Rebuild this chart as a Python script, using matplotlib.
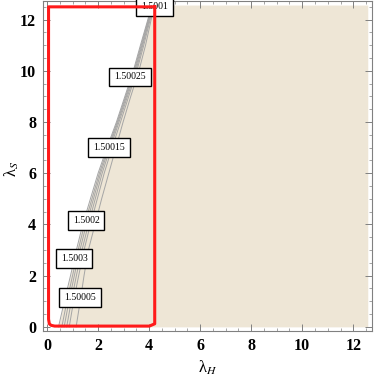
import numpy as np
import matplotlib
matplotlib.use('Agg')
import matplotlib.pyplot as plt
from matplotlib.ticker import MultipleLocator

plt.rcParams['mathtext.fontset'] = 'stix'

# plot range is 0 .. 4 pi on both axes
plot_max = 4 * np.pi
pad = 0.0125 * plot_max

# lambda_S values where the contour lines were read
lam_s = [0, 1, 2, 3, 4, 5, 6, 7, 8, 9, 10, 11, 12, 12.57]

# lambda_H position of each contour line at those lambda_S
line1 = [0.45, 0.68, 0.92, 1.15, 1.40, 1.70, 2.00, 2.35, 2.72, 3.05, 3.38, 3.66, 3.95, 4.10]
line2 = [0.58, 0.78, 1.00, 1.22, 1.47, 1.76, 2.05, 2.39, 2.75, 3.08, 3.41, 3.69, 3.97, 4.11]
line3 = [0.67, 0.86, 1.07, 1.29, 1.54, 1.82, 2.10, 2.43, 2.78, 3.11, 3.44, 3.72, 3.99, 4.12]
line4 = [0.77, 0.95, 1.15, 1.37, 1.62, 1.89, 2.16, 2.48, 2.82, 3.15, 3.48, 3.75, 4.01, 4.14]
line5 = [0.87, 1.04, 1.24, 1.45, 1.70, 1.97, 2.24, 2.55, 2.88, 3.20, 3.52, 3.79, 4.04, 4.16]
line6 = [1.14, 1.30, 1.45, 1.62, 1.88, 2.14, 2.42, 2.70, 2.98, 3.28, 3.60, 3.86, 4.08, 4.20]
contour_lines = [line1, line2, line3, line4, line5, line6]

# contour labels
label_text = ["1.5001", "1.50025", "1.50015", "1.5002", "1.5003", "1.50005"]
label_x = [4.20, 3.25, 2.43, 1.53, 1.06, 1.29]
label_y = [12.50, 9.76, 7.02, 4.16, 2.67, 1.14]

# red region outline
red_x = [4.22, 0.06, 0.06, 0.09, 0.16, 0.30, 4.01, 4.22, 4.22]
red_y = [12.50, 12.50, 0.30, 0.12, 0.06, 0.03, 0.03, 0.12, 12.50]

fig = plt.figure(figsize=(3.74, 3.76), dpi=100)
ax = fig.add_axes([0.115, 0.12, 0.879, 0.877])

ax.fill_betweenx(lam_s, line1, plot_max, color='#EEE6D6', lw=0, zorder=1)
for xs in contour_lines:
    ax.plot(xs, lam_s, color='#a5a5a5', lw=0.7, zorder=2)

for t, x, y in zip(label_text, label_x, label_y):
    ax.text(x, y, t, fontsize=7, family='Liberation Serif', ha='center', va='center',
            zorder=3, bbox=dict(boxstyle='square,pad=0.5', fc='white', ec='black', lw=1.0))

ax.plot(red_x, red_y, color='#ff1a1a', lw=2.2, zorder=4, solid_joinstyle='round')

ax.set_xlim(-pad, plot_max + pad)
ax.set_ylim(-pad, plot_max + pad)

ax.xaxis.set_major_locator(MultipleLocator(2))
ax.yaxis.set_major_locator(MultipleLocator(2))
ax.xaxis.set_minor_locator(MultipleLocator(0.5))
ax.yaxis.set_minor_locator(MultipleLocator(0.5))
ax.tick_params(which='both', direction='in', top=True, right=True, color='#808080')
ax.tick_params(which='major', length=5, width=0.7, pad=5)
ax.tick_params(which='minor', length=2.5, width=0.5)
for lab in ax.get_xticklabels() + ax.get_yticklabels():
    lab.set_family('Liberation Serif')
    lab.set_fontweight('bold')
    lab.set_fontsize(11.5)
for s in ax.spines.values():
    s.set_color('#808080')
    s.set_linewidth(0.8)

ax.set_xlabel('λ$_{\\mathit{H}}$', family='Liberation Serif', fontsize=12, va='center')
ax.set_ylabel('λ$_{\\mathit{S}}$', family='Liberation Serif', fontsize=12, va='center')
ax.xaxis.set_label_coords(0.5, -0.112)
ax.yaxis.set_label_coords(-0.095, 0.49)

fig.savefig('out.png', dpi=100)
